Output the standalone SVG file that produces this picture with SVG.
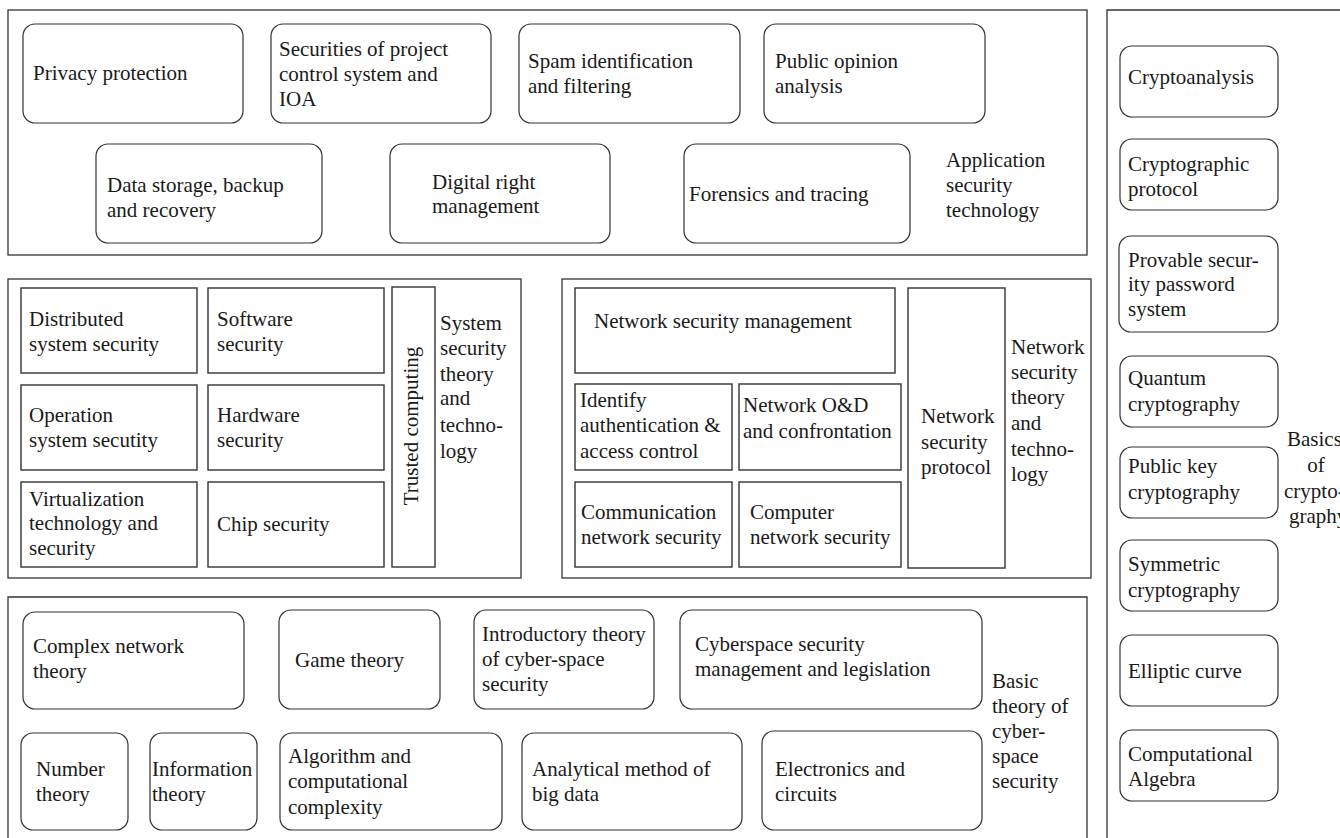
<svg xmlns="http://www.w3.org/2000/svg" width="1340" height="838" viewBox="0 0 1340 838">
<style>
text{font-family:'Liberation Serif','Times New Roman',serif;font-size:21px;fill:#1a1a1a}
.frame{fill:none;stroke:#333;stroke-width:1.3}
.rr{fill:#fff;stroke:#333;stroke-width:1.2}
.sq{fill:#fff;stroke:#333;stroke-width:1.4}
.mid{text-anchor:middle}
</style>
<rect width="1340" height="838" fill="#fff"/>
<g id="frames">
<rect class="frame" x="8" y="10" width="1079" height="245"/>
<rect class="frame" x="8" y="279" width="513" height="299"/>
<rect class="frame" x="562" y="279" width="529" height="299"/>
<path class="frame" d="M8 845 V597 H1087 V845"/>
<path class="frame" d="M1107 845 V10 H1345"/>
</g>
<g id="connectors"></g>
<g id="app">
<g id="privacy"><rect class="rr" x="23" y="24" width="220" height="99" rx="12"/><text x="33" y="80">Privacy protection</text></g>
<g id="securities"><rect class="rr" x="271" y="24" width="220" height="99" rx="12"/><text x="279" y="56">Securities of project</text><text x="279" y="81">control system and</text><text x="279" y="106">IOA</text></g>
<g id="spam"><rect class="rr" x="519" y="24" width="221" height="99" rx="12"/><text x="528" y="68">Spam identification</text><text x="528" y="93">and filtering</text></g>
<g id="opinion"><rect class="rr" x="764" y="24" width="221" height="99" rx="12"/><text x="775" y="68">Public opinion</text><text x="775" y="93">analysis</text></g>
<g id="storage"><rect class="rr" x="96" y="144" width="226" height="99" rx="12"/><text x="107" y="192">Data storage, backup</text><text x="107" y="217">and recovery</text></g>
<g id="drm"><rect class="rr" x="390" y="144" width="220" height="99" rx="12"/><text x="432" y="189">Digital right</text><text x="432" y="213">management</text></g>
<g id="forensics"><rect class="rr" x="684" y="144" width="226" height="99" rx="12"/><text x="689" y="201">Forensics and tracing</text></g>
<g id="app-label"><text x="946" y="167">Application</text><text x="946" y="192">security</text><text x="946" y="217">technology</text></g>
</g>
<g id="system">
<g id="distributed"><rect class="sq" x="21" y="288" width="176" height="85"/><text x="29" y="326">Distributed</text><text x="29" y="351">system security</text></g>
<g id="software"><rect class="sq" x="208" y="288" width="176" height="85"/><text x="217" y="326">Software</text><text x="217" y="351">security</text></g>
<g id="operation"><rect class="sq" x="21" y="385" width="176" height="85"/><text x="29" y="422">Operation</text><text x="29" y="447">system secutity</text></g>
<g id="hardware"><rect class="sq" x="208" y="385" width="176" height="85"/><text x="217" y="422">Hardware</text><text x="217" y="447">security</text></g>
<g id="virtualization"><rect class="sq" x="21" y="482" width="176" height="85"/><text x="29" y="506">Virtualization</text><text x="29" y="530">technology and</text><text x="29" y="555">security</text></g>
<g id="chip"><rect class="sq" x="208" y="482" width="176" height="85"/><text x="217" y="531">Chip security</text></g>
<g id="trusted"><rect class="sq" x="392" y="287" width="43" height="280"/><text class="mid" transform="translate(418,426) rotate(-90)">Trusted computing</text></g>
<g id="sys-label"><text x="440" y="330">System</text><text x="440" y="355">security</text><text x="440" y="381">theory</text><text x="440" y="405">and</text><text x="440" y="432">techno-</text><text x="440" y="458">logy</text></g>
</g>
<g id="network">
<g id="nsm"><rect class="sq" x="575" y="288" width="320" height="85"/><text x="594" y="328">Network security management</text></g>
<g id="identify"><rect class="sq" x="575" y="384" width="157" height="86"/><text x="580" y="407">Identify</text><text x="580" y="432">authentication &amp;</text><text x="580" y="458">access control</text></g>
<g id="od"><rect class="sq" x="739" y="384" width="162" height="86"/><text x="743" y="412">Network O&amp;D</text><text x="743" y="438">and confrontation</text></g>
<g id="communication"><rect class="sq" x="575" y="482" width="157" height="85"/><text x="581" y="519">Communication</text><text x="581" y="544">network security</text></g>
<g id="computer"><rect class="sq" x="739" y="482" width="162" height="85"/><text x="750" y="519">Computer</text><text x="750" y="544">network security</text></g>
<g id="protocol"><rect class="sq" x="908" y="288" width="97" height="280"/><text x="921" y="423">Network</text><text x="921" y="449">security</text><text x="921" y="474">protocol</text></g>
<g id="net-label"><text x="1011" y="354">Network</text><text x="1011" y="379">security</text><text x="1011" y="404">theory</text><text x="1011" y="430">and</text><text x="1011" y="456">techno-</text><text x="1011" y="481">logy</text></g>
</g>
<g id="basic">
<g id="complex"><rect class="rr" x="23" y="612" width="221" height="97" rx="12"/><text x="33" y="653">Complex network</text><text x="33" y="678">theory</text></g>
<g id="game"><rect class="rr" x="279" y="610" width="161" height="99" rx="12"/><text x="295" y="667">Game theory</text></g>
<g id="intro"><rect class="rr" x="474" y="610" width="180" height="99" rx="12"/><text x="482" y="641">Introductory theory</text><text x="482" y="666">of cyber-space</text><text x="482" y="691">security</text></g>
<g id="legislation"><rect class="rr" x="680" y="610" width="302" height="99" rx="12"/><text x="695" y="651">Cyberspace security</text><text x="695" y="676">management and legislation</text></g>
<g id="number"><rect class="rr" x="21" y="733" width="107" height="97" rx="12"/><text x="36" y="776">Number</text><text x="36" y="801">theory</text></g>
<g id="information"><rect class="rr" x="150" y="733" width="107" height="97" rx="12"/><text x="152" y="776">Information</text><text x="152" y="801">theory</text></g>
<g id="algorithm"><rect class="rr" x="280" y="733" width="222" height="97" rx="12"/><text x="288" y="763">Algorithm and</text><text x="288" y="788">computational</text><text x="288" y="814">complexity</text></g>
<g id="bigdata"><rect class="rr" x="522" y="733" width="220" height="97" rx="12"/><text x="532" y="776">Analytical method of</text><text x="532" y="801">big data</text></g>
<g id="electronics"><rect class="rr" x="762" y="731" width="220" height="99" rx="12"/><text x="775" y="776">Electronics and</text><text x="775" y="801">circuits</text></g>
<g id="basic-label"><text x="992" y="688">Basic</text><text x="992" y="713">theory of</text><text x="992" y="738">cyber-</text><text x="992" y="763">space</text><text x="992" y="788">security</text></g>
</g>
<g id="crypto">
<g id="cryptoanalysis"><rect class="rr" x="1120" y="46" width="158" height="71" rx="12"/><text x="1128" y="84">Cryptoanalysis</text></g>
<g id="cprotocol"><rect class="rr" x="1120" y="139" width="158" height="71" rx="12"/><text x="1128" y="171">Cryptographic</text><text x="1128" y="196">protocol</text></g>
<g id="provable"><rect class="rr" x="1119" y="236" width="159" height="96" rx="12"/><text x="1128" y="267">Provable secur-</text><text x="1128" y="291">ity password</text><text x="1128" y="316">system</text></g>
<g id="quantum"><rect class="rr" x="1120" y="356" width="158" height="71" rx="12"/><text x="1128" y="385">Quantum</text><text x="1128" y="411">cryptography</text></g>
<g id="publickey"><rect class="rr" x="1120" y="447" width="158" height="71" rx="12"/><text x="1128" y="473">Public key</text><text x="1128" y="499">cryptography</text></g>
<g id="symmetric"><rect class="rr" x="1120" y="540" width="158" height="71" rx="12"/><text x="1128" y="571">Symmetric</text><text x="1128" y="597">cryptography</text></g>
<g id="elliptic"><rect class="rr" x="1120" y="635" width="158" height="71" rx="12"/><text x="1128" y="678">Elliptic curve</text></g>
<g id="algebra"><rect class="rr" x="1120" y="730" width="158" height="71" rx="12"/><text x="1128" y="761">Computational</text><text x="1128" y="786">Algebra</text></g>
<g id="crypto-label"><text x="1287" y="446">Basics</text><text x="1316" y="472" class="mid">of</text><text x="1284" y="498">crypto-</text><text x="1289" y="523">graphy</text></g>
</g>
</svg>
